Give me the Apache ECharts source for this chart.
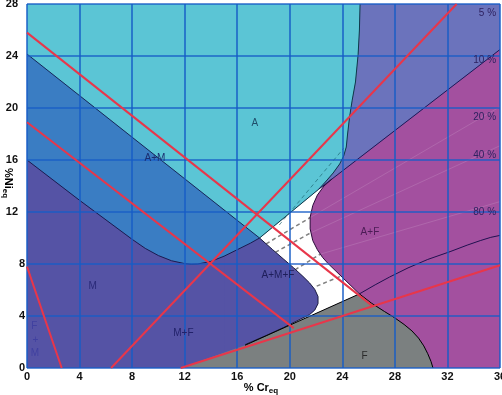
<!DOCTYPE html>
<html><head><meta charset="utf-8">
<script src="https://cdn.jsdelivr.net/npm/echarts@6/dist/echarts.min.js"></script>
<style>html,body{margin:0;padding:0;background:#fff}#c{width:502px;height:395px}</style>
</head><body><div id="c"></div>
<script>
// ---- axis ----
const xRange = [0, 36];
const yRange = [0, 28];
const tickStep = 4;

// ---- phase boundaries (x = %Cr_eq, y = %Ni_eq) ----
const plotFrame = [[0,0],[36,0],[36,28],[0,28]];
const amLine = [[0,24.15],[17.7,10.0]];                 // A / A+M
const mCurve = [[0,16],[4,12.9],[8,9.9],[9,9.2],[10,8.65],[11,8.25],[12,8.03],[12.5,7.98],[13,8.0],[14,8.2],[15,8.6],[16,9.1],[17,9.6],[17.7,10.0]];
const aLowerEdge = [[17.7,10.0],[22.2,13.75]];
const ferrite5 = [[25.35,28],[25.3,26],[25.2,24.1],[25.0,22],[24.75,20.6],[24.55,19.3],[24.4,18.0],[24.3,17.0],[24.1,16.3],[23.8,15.7],[23.3,15.0],[22.7,14.3],[22.2,13.75]];
const ferrite10 = [[22.2,13.75],[36,24.5]];
const magentaEdge = [[23.2,14.53],[22.6,14.0],[22.1,13.3],[21.75,12.5],[21.55,11.6],[21.55,10.7],[21.75,9.8],[22.1,9.1],[22.5,8.5],[22.9,8.05],[25.3,5.7]];
const blobEdge = [[17.7,10.0],[18.7,9.1],[19.5,8.4],[20.3,7.7],[21.0,7.05],[21.5,6.55],[21.9,6.05],[22.15,5.5],[22.15,4.95],[21.9,4.45],[21.5,4.1],[20.8,3.75],[19.5,3.1],[18.2,2.5],[16.6,1.8]];
const fLine = [[16.6,1.75],[25.3,5.7]];
const fStart = [[11.7,0],[16.6,1.75]];
const fCurve = [[25.3,5.7],[26.2,5.0],[27.2,4.35],[28.0,3.85],[28.7,3.35],[29.3,2.85],[29.8,2.3],[30.2,1.7],[30.5,1.1],[30.75,0.5],[30.9,0]];
const ferrite100 = [[25.3,5.7],[26.5,6.4],[27.6,7.0],[29,7.7],[30.5,8.35],[32.2,8.95],[33.5,9.45],[34.5,9.8],[35.3,10.05],[36,10.2]];
const dashTeal = [[19.2,11.0],[24.1,16.9]];
const iso20 = [[18.2,9.55],[21.6,11.6]];
const iso40 = [[18.9,8.9],[21.6,10.4]];
const iso80 = [[20.4,7.55],[22.3,8.75]];
const iso100 = [[22.05,6.3],[23.85,7.05]];
const faint20 = [[21.6,11.6],[36,20.1]];
const faint40 = [[21.6,10.4],[36,17.1]];
const faint80 = [[22.3,8.75],[36,12.8]];

// ---- red lines ----
const red1 = [[0,25.8],[26.33,4.74]];
const red2 = [[0,18.9],[20.3,3.07]];
const red3 = [[0,7.8],[2.64,0]];
const red4 = [[6.4,0],[32.7,28]];
const red5 = [[11.7,0],[36,7.9]];

// ---- labels ----
const regionLabels = [
  ['A',17.35,18.85,'#1f4e6b'],['A+M',9.74,16.15,'#1b2d70'],['M',5.0,6.3,'#2a2a78'],
  ['M+F',11.9,2.7,'#22226a'],['A+M+F',19.1,7.15,'#1e1e5a'],['A+F',26.1,10.45,'#4c1c56'],
  ['F',25.7,0.9,'#2a2a2a'],['F',0.55,3.18,'#4040a0'],['+',0.65,2.15,'#4040a0'],['M',0.6,1.15,'#4040a0']
];
const pctLabels = [['5 %',27.3],['10 %',23.7],['20 %',19.3],['40 %',16.4],['80 %',12.0]];
const pctX = 35.7;

const C = {M:'#5553a5', AM:'#3a7dc3', A:'#5bc5d5', slate:'#6b73bc', AF:'#a3509f', F:'#7b8080', W:'#ffffff'};

function rev(a){return a.slice().reverse();}
function poly(name, pts, fill, z){
  return {type:'custom', name, coordinateSystem:'cartesian2d', data:[[0,0]], silent:true, z:z||2,
    renderItem:(p,api)=>({type:'polygon', shape:{points:pts.map(q=>api.coord(q))}, style:{fill:fill}})};
}
function line(name, pts, color, width, z, dash){
  return {type:'custom', name, coordinateSystem:'cartesian2d', data:[[0,0]], silent:true, z:z||3,
    renderItem:(p,api)=>({type:'polyline', shape:{points:pts.map(q=>api.coord(q))},
      style:{stroke:color, lineWidth:width, fill:null, lineDash:dash||null}})};
}

const series = [
  poly('M', plotFrame, C.M, 1),
  poly('white', [[17.7,10.0],[22.2,13.75],[23.2,14.53],[25.3,5.7],[16.6,1.75]], C.W, 1),
  poly('blob', blobEdge.concat([[15,1.0],[15,9.5]]), C.M, 1),
  poly('A+M', amLine.concat(rev(mCurve)), C.AM, 2),
  poly('A', [[0,24.15],[0,28]].concat(ferrite5, rev(aLowerEdge)), C.A, 2),
  poly('slate', ferrite5.concat([[36,24.5],[36,28]]), C.slate, 2),
  poly('A+F', [[23.2,14.53],[36,24.5],[36,0]].concat(rev(fCurve), rev(magentaEdge).slice(1)), C.AF, 2),
  poly('F', fStart.concat([[25.3,5.7]], fCurve.slice(1)), C.F, 2),
  line('faint20', faint20, 'rgba(255,255,255,0.13)', 1, 3),
  line('faint40', faint40, 'rgba(255,255,255,0.13)', 1, 3),
  line('faint80', faint80, 'rgba(255,255,255,0.13)', 1, 3),
  line('iso20', iso20, '#808080', 1.5, 3, [4,3]),
  line('iso40', iso40, '#808080', 1.5, 3, [4,3]),
  line('iso80', iso80, '#808080', 1.5, 3, [4,3]),
  line('iso100', iso100, '#808080', 1.5, 3, [4,3]),
  line('dashTeal', dashTeal, 'rgba(20,90,100,0.6)', 1, 3, [4,3]),
  line('amLine', amLine, '#14285a', 1, 3),
  line('mCurve', mCurve, '#1a1a50', 1, 3),
  line('blobEdge', blobEdge, '#1a1a40', 1, 3),
  line('aLower', aLowerEdge, '#0d3a4a', 1, 3),
  line('f5', ferrite5, '#0d3a4a', 1, 3),
  line('f10', ferrite10, '#1a1a5a', 1, 3),
  line('magEdge', magentaEdge, '#2a0a3a', 1, 3),
  line('fLine', fLine, '#000000', 1, 3),
  line('fCurve', fCurve, '#000000', 1, 3),
  line('f100', ferrite100, '#201050', 1, 3),
  line('red1', red1, '#e8364a', 2, 8),
  line('red2', red2, '#e8364a', 2, 8),
  line('red3', red3, '#e8364a', 2, 8),
  line('red4', red4, '#e8364a', 2, 8),
  line('red5', red5, '#e8364a', 2, 8),
  {type:'custom', name:'regionLabels', coordinateSystem:'cartesian2d', silent:true, z:10,
    data: regionLabels.map(l=>[l[1],l[2]]),
    renderItem:(p,api)=>{const l=regionLabels[p.dataIndex]; const c=api.coord([l[1],l[2]]);
      return {type:'text', x:c[0], y:c[1], style:{text:l[0], fill:l[3], font:'10px "Liberation Sans"', align:'center', verticalAlign:'middle'}};}},
  {type:'custom', name:'pctLabels', coordinateSystem:'cartesian2d', silent:true, z:10,
    data: pctLabels.map(l=>[pctX,l[1]]),
    renderItem:(p,api)=>{const l=pctLabels[p.dataIndex]; const c=api.coord([pctX,l[1]]);
      return {type:'text', x:c[0], y:c[1], style:{text:l[0], fill:'#2e2260', font:'10px "Liberation Sans"', align:'right', verticalAlign:'middle'}};}}
];

const gridColor = 'rgba(22,92,198,0.9)';
const lblFont = {color:'#111', fontFamily:'Liberation Sans', fontWeight:'bold', fontSize:11};
const nameRich = {a:{fontFamily:'Liberation Sans', fontWeight:'bold', fontSize:11, color:'#111'},
                  b:{fontFamily:'Liberation Sans', fontWeight:'bold', fontSize:8, color:'#111', padding:[6,0,0,0]}};
const chart = echarts.init(document.getElementById('c'), null, {renderer:'canvas'});
chart.setOption({
  animation:false,
  backgroundColor:'#ffffff',
  grid:{left:27, right:2, top:4, bottom:27, containLabel:false, outerBoundsMode:'none'},
  graphic:[
    {type:'text', x:8, y:183, rotation:-Math.PI/2, z:20,
      style:{text:'{a|%Ni}{b|eq}', rich:nameRich, align:'center', verticalAlign:'middle'}},
    {type:'text', x:261, y:388, z:20,
      style:{text:'{a|% Cr}{b|eq}', rich:nameRich, align:'center', verticalAlign:'middle'}}
  ],
  xAxis:{type:'value', min:xRange[0], max:xRange[1], interval:tickStep, z:5,
    axisLine:{show:false}, axisTick:{show:false},
    splitLine:{show:true, lineStyle:{color:gridColor, width:1.6}},
    axisLabel:Object.assign({margin:3}, lblFont)},
  yAxis:{type:'value', min:yRange[0], max:yRange[1], interval:tickStep, z:5,
    axisLine:{show:false}, axisTick:{show:false},
    splitLine:{show:true, lineStyle:{color:gridColor, width:1.6}},
    axisLabel:{margin:2, formatter:v=> v>=10 ? '{d|'+v+'}' : '{s|'+v+'}',
      rich:{d:Object.assign({padding:[0,7,0,0]}, lblFont), s:Object.assign({}, lblFont)}}},
  series: series
});
</script></body></html>
